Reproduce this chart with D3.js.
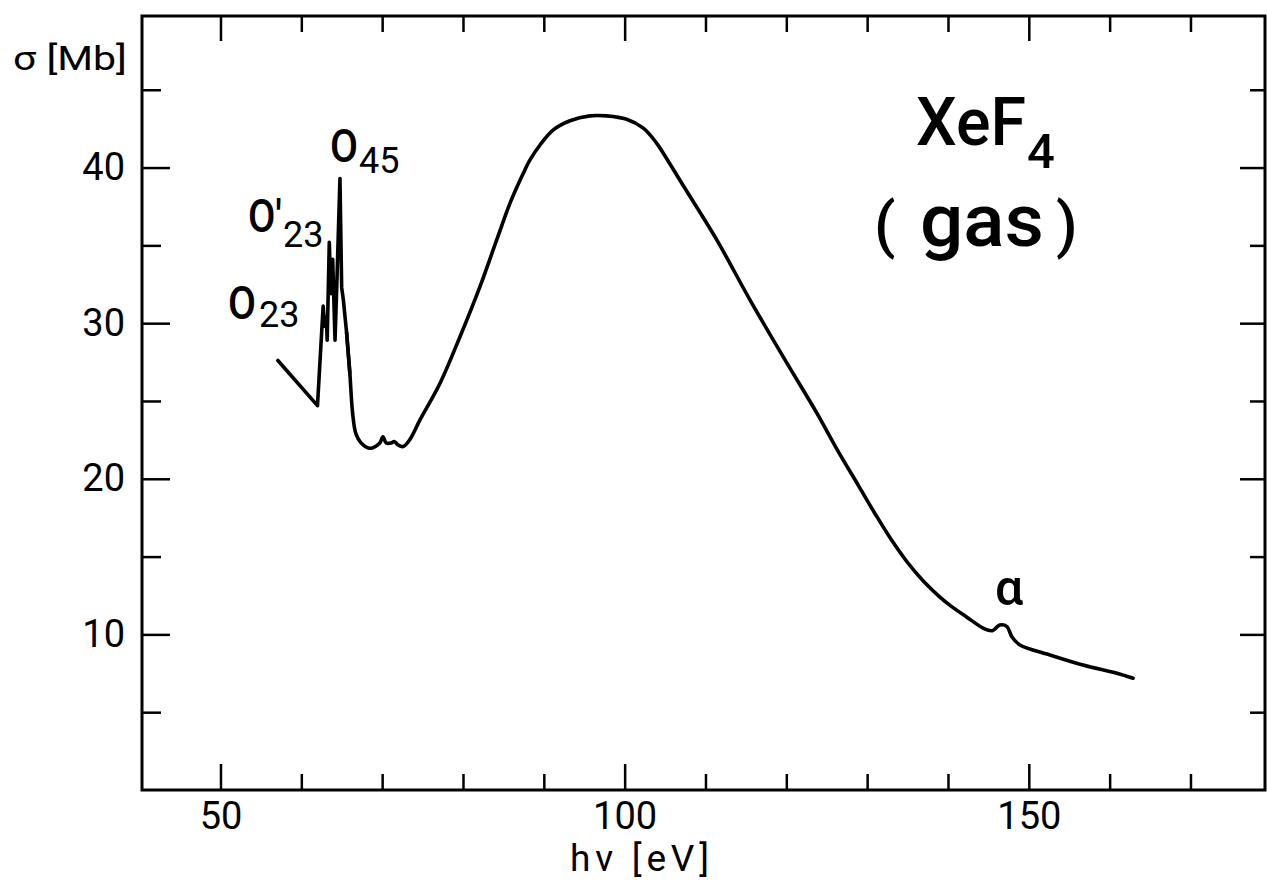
<!DOCTYPE html>
<html><head><meta charset="utf-8">
<script src="https://cdn.jsdelivr.net/npm/d3@7"></script>
<style>
body{margin:0;background:#fff}
svg{display:block}
text{font-family:Roboto,"Liberation Sans",sans-serif;fill:#000}
</style>
</head><body>
<svg id="chart" width="1267" height="884"></svg>
<script>
// photon energy hv [eV]
const energy = [57.1, 62.0, 62.7, 62.9, 63.1, 63.2, 63.46, 63.67, 63.88, 64.17, 64.38, 64.78, 64.99, 65.2, 65.6, 66.0, 66.35, 66.75, 67.4, 68.5, 69.7, 70.1, 70.5, 71.1, 71.5, 71.9, 72.6, 73.4, 74.68, 77.16, 79.63, 82.1, 84.17, 85.82, 87.46, 88.29, 89.53, 91.17, 93.24, 95.71, 97.78, 100.25, 102.31, 103.97, 104.78, 107.3, 111.4, 115.5, 119.6, 123.8, 126.2, 129.0, 131.0, 133.0, 135.0, 137.0, 139.0, 140.3, 142.3, 144.4, 145.5, 146.4, 147.3, 147.9, 148.9, 152.6, 156.7, 160.9, 162.9];
// cross section sigma [Mb]
const sigma = [27.6, 24.7, 31.1, 29.8, 30.4, 28.9, 35.2, 31.9, 34.1, 28.9, 32.3, 39.3, 32.3, 31.5, 29.4, 26.8, 24.2, 22.9, 22.3, 21.96, 22.3, 22.7, 22.3, 22.3, 22.4, 22.2, 22.07, 22.5, 23.78, 26.14, 29.13, 32.35, 35.35, 37.71, 39.63, 40.49, 41.45, 42.42, 43.01, 43.32, 43.32, 43.1, 42.53, 41.56, 40.92, 38.8, 35.35, 31.5, 27.85, 24.2, 21.96, 19.5, 17.74, 16.08, 14.62, 13.4, 12.4, 11.85, 11.12, 10.39, 10.24, 10.6, 10.5, 9.85, 9.32, 8.68, 8.03, 7.5, 7.18];

const xMajorTicks = [50, 100, 150];
const xMinorTicks = [60, 70, 80, 90, 110, 120, 130, 140, 160, 170];
const yMajorTicks = [10, 20, 30, 40];
const yMinorTicks = [5, 15, 25, 35, 45];

const svg = d3.select("#chart");
const x = d3.scaleLinear().domain([40.29, 179.22]).range([142, 1265]);
const y = d3.scaleLinear().domain([0, 49.74]).range([790, 16]);
const [x0, x1] = x.range();
const [y0, y1] = y.range();

function styleAxis(g, fs) {
  g.select(".domain").remove();
  g.selectAll(".tick line").attr("stroke", "#000").attr("stroke-width", 2.5);
  g.selectAll(".tick text").attr("font-size", fs).attr("font-family", "Roboto, 'Liberation Sans', sans-serif").attr("fill", "#000");
}

// bottom
svg.append("g").attr("transform", `translate(0,${y0})`)
  .call(d3.axisBottom(x).tickValues(xMajorTicks).tickSize(-26).tickSizeOuter(0).tickPadding(12).tickFormat(d3.format("d")))
  .call(g => styleAxis(g, 38));
svg.append("g").attr("transform", `translate(0,${y0})`)
  .call(d3.axisBottom(x).tickValues(xMinorTicks).tickSize(-16).tickSizeOuter(0).tickFormat(""))
  .call(g => styleAxis(g, 38));
// top
svg.append("g").attr("transform", `translate(0,${y1})`)
  .call(d3.axisTop(x).tickValues(xMajorTicks).tickSize(-25).tickSizeOuter(0).tickFormat(""))
  .call(g => styleAxis(g, 38));
svg.append("g").attr("transform", `translate(0,${y1})`)
  .call(d3.axisTop(x).tickValues(xMinorTicks).tickSize(-16).tickSizeOuter(0).tickFormat(""))
  .call(g => styleAxis(g, 38));
// left
svg.append("g").attr("transform", `translate(${x0},0)`)
  .call(d3.axisLeft(y).tickValues(yMajorTicks).tickSize(-28).tickSizeOuter(0).tickPadding(17).tickFormat(d3.format("d")))
  .call(g => styleAxis(g, 38));
svg.append("g").attr("transform", `translate(${x0},0)`)
  .call(d3.axisLeft(y).tickValues(yMinorTicks).tickSize(-19).tickSizeOuter(0).tickFormat(""))
  .call(g => styleAxis(g, 38));
// right
svg.append("g").attr("transform", `translate(${x1},0)`)
  .call(d3.axisRight(y).tickValues(yMajorTicks).tickSize(-25).tickSizeOuter(0).tickFormat(""))
  .call(g => styleAxis(g, 38));
svg.append("g").attr("transform", `translate(${x1},0)`)
  .call(d3.axisRight(y).tickValues(yMinorTicks).tickSize(-15).tickSizeOuter(0).tickFormat(""))
  .call(g => styleAxis(g, 38));

// frame
svg.append("rect").attr("x", x0).attr("y", y1).attr("width", x1 - x0).attr("height", y0 - y1)
  .attr("fill", "none").attr("stroke", "#000").attr("stroke-width", 3);

// curve: sharp resonance region drawn linearly, smooth continuum with a spline
const pts = energy.map((e, i) => [e, sigma[i]]);
const lineGen = d3.line().x(d => x(d[0])).y(d => y(d[1]));
svg.append("path").datum(pts.filter(d => d[0] <= 66.0))
  .attr("fill", "none").attr("stroke", "#000").attr("stroke-width", 3.6)
  .attr("stroke-linejoin", "round").attr("stroke-linecap", "round")
  .attr("d", lineGen.curve(d3.curveLinear));
svg.append("path").datum(pts.filter(d => d[0] >= 65.6))
  .attr("fill", "none").attr("stroke", "#000").attr("stroke-width", 3.6)
  .attr("stroke-linejoin", "round").attr("stroke-linecap", "round")
  .attr("d", lineGen.curve(d3.curveCatmullRom.alpha(0.5)));

// axis titles
svg.append("text").attr("x", 13).attr("y", 70).attr("font-size", 34)
  .attr("textLength", 114).attr("lengthAdjust", "spacingAndGlyphs").text("σ [Mb]");
svg.append("text").attr("x", 570).attr("y", 871).attr("font-size", 37)
  .attr("textLength", 139).text("hν [eV]");

// peak labels
function peakLabel(px, py, main, sub, subX, subY) {
  const t = svg.append("text").attr("x", px).attr("y", py).attr("font-size", 47).attr("font-weight", 500);
  t.append("tspan").attr("textLength", main.length > 1 ? 34 : 28).attr("lengthAdjust", "spacingAndGlyphs").text(main);
  t.append("tspan").attr("x", subX).attr("y", subY).attr("font-size", 36).attr("font-weight", 400).text(sub);
}
peakLabel(228, 319, "O", "23", 259, 327);
peakLabel(248, 232, "O'", "23", 283, 247);
peakLabel(330, 162, "O", "45", 359, 173);

svg.append("text").attr("x", 995).attr("y", 605).attr("font-size", 50).attr("font-weight", 500).text("α");

// title
const t1 = svg.append("text").attr("x", 916).attr("y", 145).attr("font-size", 67).attr("font-weight", 500);
t1.append("tspan").attr("textLength", 110).attr("lengthAdjust", "spacingAndGlyphs").text("XeF");
t1.append("tspan").attr("x", 1027).attr("y", 168).attr("font-size", 49).text("4");

const t2 = svg.append("text").attr("y", 246).attr("font-weight", 500);
t2.append("tspan").attr("x", 874).attr("font-size", 62).text("(");
t2.append("tspan").attr("x", 920).attr("font-size", 74).attr("textLength", 124).attr("lengthAdjust", "spacingAndGlyphs").text("gas");
t2.append("tspan").attr("x", 1056).attr("font-size", 62).text(")");
</script>
</body></html>
